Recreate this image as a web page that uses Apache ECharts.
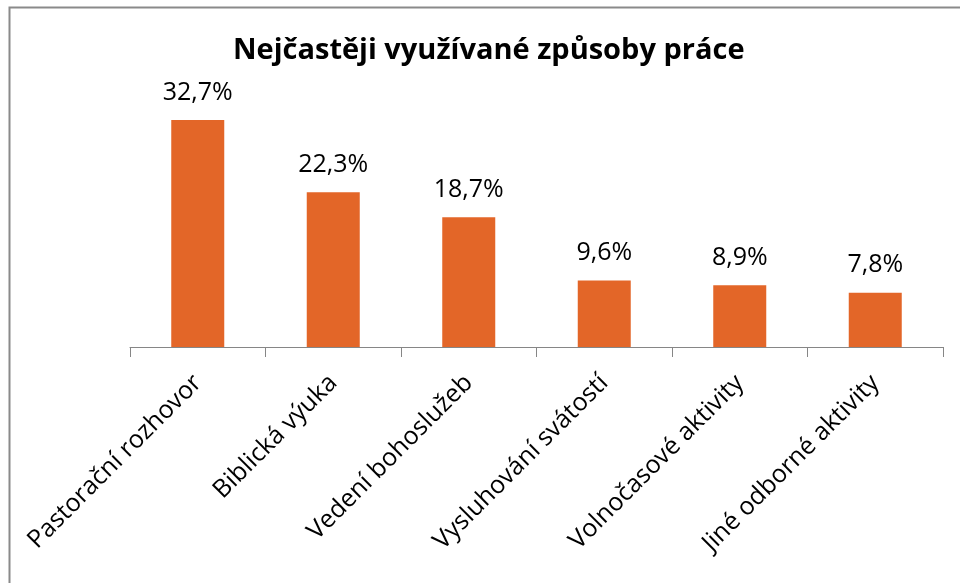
<!DOCTYPE html>
<html>
<head>
<meta charset="utf-8">
<script src="https://cdn.jsdelivr.net/npm/echarts@6/dist/echarts.min.js"></script>
<style>
  html, body { margin: 0; padding: 0; background: #fff; }
  #chart { width: 960px; height: 583px; }
</style>
</head>
<body>
<div id="chart"></div>
<script>
const categories = [
  "Pastorační rozhovor",
  "Biblická výuka",
  "Vedení bohoslužeb",
  "Vysluhování svátostí",
  "Volnočasové aktivity",
  "Jiné odborné aktivity"
];
const values = [32.7, 22.3, 18.7, 9.6, 8.9, 7.8];

const font = "'Open Sans', 'Noto Sans', sans-serif";

const chart = echarts.init(document.getElementById("chart"));
chart.setOption({
  animation: false,
  textStyle: { fontFamily: font },
  graphic: [
    {
      type: "rect",
      shape: { x: 9.5, y: 7.5, width: 1000, height: 700 },
      style: { fill: "none", stroke: "#8a8a8a", lineWidth: 2 }
    }
  ],
  title: {
    text: "Nejčastěji využívané způsoby práce",
    left: 228,
    top: 31,
    textStyle: { fontFamily: font, fontSize: 29, fontWeight: "bold", color: "#000" }
  },
  grid: { left: 130, right: 17, top: 69.4, bottom: 236 },
  xAxis: {
    type: "category",
    data: categories,
    axisLine: { lineStyle: { color: "#868686", width: 1 } },
    axisTick: { show: true, alignWithLabel: false, length: 10, lineStyle: { color: "#868686" } },
    axisLabel: {
      rotate: 45,
      interval: 0,
      margin: 32,
      fontSize: 25,
      color: "#000",
      fontFamily: font
    }
  },
  yAxis: {
    type: "value",
    min: 0,
    max: 40,
    show: false,
    splitLine: { show: false }
  },
  series: [
    {
      type: "bar",
      data: values,
      barWidth: 53,
      itemStyle: { color: "#E36628" },
      label: {
        show: true,
        position: "top",
        distance: 15,
        fontSize: 25,
        color: "#000",
        fontFamily: font,
        formatter: p => String(p.value).replace(".", ",") + "%"
      }
    }
  ]
});
</script>
</body>
</html>
